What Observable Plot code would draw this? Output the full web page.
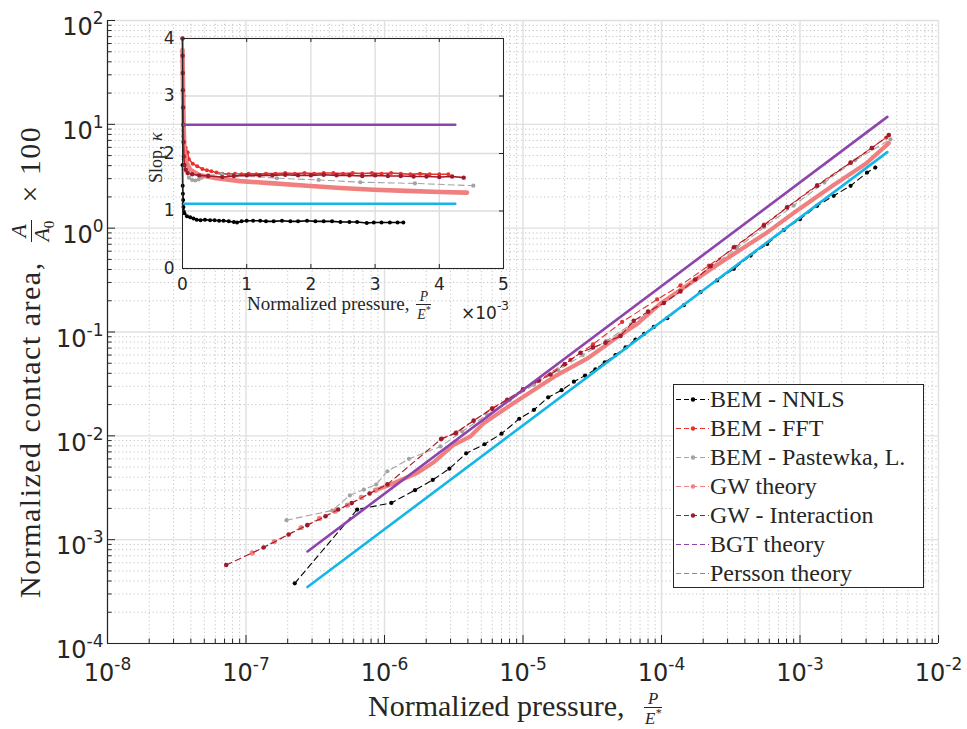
<!DOCTYPE html>
<html>
<head>
<meta charset="utf-8">
<script src="https://cdn.jsdelivr.net/npm/d3@7"></script>
<script src="https://cdn.jsdelivr.net/npm/@observablehq/plot@0.6"></script>
<style>
  html, body { margin: 0; padding: 0; background: white; }
  #fig { position: relative; width: 967px; height: 729px; background: white; overflow: hidden; }
  #fig > svg, #fig > div { position: absolute; }
  .serif { font-family: "Liberation Serif", "Times New Roman", serif; color: #262626; white-space: nowrap; }
  .frac { display: inline-flex; flex-direction: column; vertical-align: middle; text-align: center; font-size: 0.72em; font-style: italic; line-height: 1.0; margin: 0 2px; letter-spacing: 0; }
  .frac .d { border-top: 1px solid #262626; padding: 0 1px; }
  .sans { font-family: "Liberation Sans", Arial, sans-serif; color: #262626; white-space: nowrap; }
  #legend .row { height: 29px; display: flex; align-items: center; font-size: 24px; line-height: 29px; }
  #legend svg { flex: none; }
</style>
</head>
<body>
<div id="fig"></div>
<script>
// ---------------- DATA (main plot, log-log) ----------------
const xMajor = [1e-8, 1e-7, 1e-6, 1e-5, 1e-4, 1e-3, 1e-2];
const xTickLabels = ["10^-8", "10^-7", "10^-6", "10^-5", "10^-4", "10^-3", "10^-2"];
const yMajor = [1e-4, 1e-3, 1e-2, 1e-1, 1e0, 1e1, 1e2];
const yTickLabels = ["10^-4", "10^-3", "10^-2", "10^-1", "10^0", "10^1", "10^2"];

const seriesNames = ["BEM - NNLS", "BEM - FFT", "BEM - Pastewka, L.", "GW theory", "GW - Interaction", "BGT theory", "Persson theory"];
const seriesColors = ["#000000", "#e8302c", "#a3a3a3", "#f08080", "#9e1b2c", "#8e44ad", "#14b6e6"];

const nnlsP = [2.25e-7, 6.35e-7, 1.12e-6, 1.66e-6, 2.23e-6, 2.94e-6, 3.89e-6, 5.27e-6, 7.0e-6, 9.4e-6, 1.2e-5, 1.52e-5, 1.9e-5, 2.33e-5, 2.8e-5, 3.33e-5, 3.9e-5, 4.65e-5, 5.5e-5, 6.49e-5, 7.5e-5, 8.79e-5, 1.1e-4, 1.45e-4, 1.91e-4, 2.52e-4, 3.33e-4, 4.4e-4, 5.79e-4, 7.64e-4, 1.0e-3, 1.33e-3, 1.75e-3, 2.32e-3, 3.05e-3, 3.5e-3];
const nnlsA = [3.8e-4, 1.95e-3, 2.26e-3, 3.0e-3, 3.76e-3, 4.83e-3, 6.78e-3, 8.3e-3, 1.05e-2, 1.46e-2, 1.78e-2, 2.35e-2, 2.75e-2, 3.32e-2, 3.8e-2, 4.36e-2, 5.1e-2, 6.0e-2, 7.1e-2, 8.45e-2, 9.6e-2, 0.112, 0.136, 0.181, 0.242, 0.314, 0.406, 0.545, 0.705, 0.96, 1.22, 1.64, 2.05, 2.56, 3.43, 3.83];

const fftP = [2.6e-6, 3.3e-6, 6.0e-6, 1.2e-5, 2.2e-5, 3.2e-5, 5.2e-5, 9.3e-5, 1.37e-4, 2.2e-4, 3.42e-4, 5.5e-4, 8.1e-4, 1.33e-3, 2.32e-3, 3.3e-3, 4.2e-3];
const fftA = [9.4e-3, 1.08e-2, 1.85e-2, 3.2e-2, 5.4e-2, 7.6e-2, 0.125, 0.206, 0.281, 0.437, 0.654, 1.08, 1.6, 2.6, 4.3, 5.95, 7.45];

const pastP = [1.96e-7, 4.19e-7, 5.62e-7, 7.1e-7, 8.7e-7, 1.05e-6, 1.5e-6, 2.54e-6, 3.64e-6, 5.5e-6, 8.0e-6, 1.2e-5, 1.8e-5, 2.7e-5, 4.0e-5, 6.0e-5, 9.0e-5, 1.4e-4, 2.2e-4, 3.5e-4, 5.5e-4, 9.0e-4, 1.5e-3, 2.5e-3, 4.5e-3];
const pastA = [1.54e-3, 1.91e-3, 2.67e-3, 3.04e-3, 3.4e-3, 4.56e-3, 6.0e-3, 7.9e-3, 1.1e-2, 1.6e-2, 2.2e-2, 3.1e-2, 4.3e-2, 6.0e-2, 8.2e-2, 0.118, 0.17, 0.26, 0.41, 0.64, 1.02, 1.65, 2.75, 4.5, 7.16];

const gwtDotP = [1.11e-7, 1.6e-7, 2.5e-7, 3.4e-7, 4.4e-7, 5.4e-7, 6.8e-7, 8.6e-7];
const gwtDotA = [7.45e-4, 9.6e-4, 1.31e-3, 1.6e-3, 1.88e-3, 2.15e-3, 2.55e-3, 3.0e-3];
const gwtP = [8.6e-7, 1.05e-6, 1.72e-6, 2.28e-6, 3.16e-6, 4.18e-6, 5.2e-6, 8.1e-6, 1.67e-5, 2.9e-5, 4.5e-5, 6.7e-5, 9.8e-5, 2.5e-4, 5.79e-4, 1.0e-3, 1.75e-3, 3.0e-3, 4.38e-3];
const gwtA = [3.0e-3, 3.3e-3, 4.39e-3, 5.6e-3, 8.2e-3, 9.9e-3, 1.32e-2, 1.97e-2, 3.69e-2, 5.53e-2, 8.4e-2, 0.12, 0.187, 0.44, 0.91, 1.55, 2.6, 4.2, 6.6];

const gwiP = [7.2e-8, 1.34e-7, 2.03e-7, 2.77e-7, 3.75e-7, 4.63e-7, 5.8e-7, 7.8e-7, 1.05e-6, 2.56e-6, 3.26e-6, 4.4e-6, 5.99e-6, 7.7e-6, 1.0e-5, 1.3e-5, 1.58e-5, 2.0e-5, 2.6e-5, 3.2e-5, 3.94e-5, 5.06e-5, 6.3e-5, 8.0e-5, 1.04e-4, 1.37e-4, 1.75e-4, 2.26e-4, 3.33e-4, 5.48e-4, 8.06e-4, 1.33e-3, 2.32e-3, 3.3e-3, 4.38e-3];
const gwiA = [5.7e-4, 8.4e-4, 1.12e-3, 1.38e-3, 1.68e-3, 1.95e-3, 2.25e-3, 2.78e-3, 3.41e-3, 9.3e-3, 1.06e-2, 1.4e-2, 1.82e-2, 2.22e-2, 2.8e-2, 3.4e-2, 3.9e-2, 4.9e-2, 6.3e-2, 7.1e-2, 7.9e-2, 9.16e-2, 0.128, 0.157, 0.19, 0.246, 0.32, 0.43, 0.654, 1.06, 1.58, 2.56, 4.27, 5.9, 7.9];

const bgtP = [2.78e-7, 4.27e-3];
const bgtA = [7.7e-4, 11.8];
const perP = [2.78e-7, 4.27e-3];
const perA = [3.5e-4, 5.4];

// ---------------- DATA (inset, slope kappa) ----------------
const inXTicks = [0, 1e-3, 2e-3, 3e-3, 4e-3, 5e-3];
const inXTickLabels = ["0", "1", "2", "3", "4", "5"];
const inYTicks = [0, 1, 2, 3, 4];

const inNnlsP = [0, 0.003e-3, 0.006e-3, 0.01e-3, 0.015e-3, 0.03e-3, 0.07e-3, 0.12e-3, 0.17e-3, 0.22e-3, 0.28e-3, 0.35e-3, 0.43e-3, 0.5e-3, 0.57e-3, 0.64e-3, 0.72e-3, 0.8e-3, 0.85e-3, 0.92e-3, 1.0e-3, 1.1e-3, 1.21e-3, 1.3e-3, 1.42e-3, 1.55e-3, 1.68e-3, 1.8e-3, 1.94e-3, 2.07e-3, 2.2e-3, 2.33e-3, 2.46e-3, 2.6e-3, 2.72e-3, 2.87e-3, 2.98e-3, 3.1e-3, 3.23e-3, 3.35e-3, 3.44e-3];
const inNnlsK = [1.8, 1.44, 1.3, 1.19, 1.07, 0.96, 0.91, 0.89, 0.87, 0.85, 0.84, 0.85, 0.84, 0.84, 0.83, 0.83, 0.82, 0.81, 0.8, 0.82, 0.83, 0.83, 0.83, 0.82, 0.82, 0.83, 0.82, 0.82, 0.83, 0.82, 0.82, 0.82, 0.81, 0.81, 0.81, 0.79, 0.8, 0.8, 0.8, 0.8, 0.8];

const inFftP = [0, 0.004e-3, 0.008e-3, 0.015e-3, 0.03e-3, 0.05e-3, 0.08e-3, 0.1e-3, 0.16e-3, 0.23e-3, 0.31e-3, 0.38e-3, 0.45e-3, 0.53e-3, 0.62e-3, 0.72e-3, 0.82e-3, 0.92e-3, 1.03e-3, 1.15e-3, 1.3e-3, 1.45e-3, 1.6e-3, 1.75e-3, 1.9e-3, 2.05e-3, 2.2e-3, 2.35e-3, 2.5e-3, 2.65e-3, 2.8e-3, 2.95e-3, 3.1e-3, 3.25e-3, 3.4e-3, 3.55e-3, 3.7e-3, 3.85e-3, 4.0e-3, 4.14e-3];
const inFftK = [4.0, 3.4, 2.8, 2.4, 2.2, 2.1, 2.02, 1.9, 1.82, 1.78, 1.73, 1.71, 1.69, 1.67, 1.65, 1.64, 1.65, 1.64, 1.65, 1.64, 1.65, 1.65, 1.66, 1.65, 1.66, 1.65, 1.66, 1.66, 1.65, 1.66, 1.65, 1.66, 1.65, 1.66, 1.65, 1.64, 1.65, 1.64, 1.64, 1.64];

const inPastP = [0, 0.005e-3, 0.01e-3, 0.02e-3, 0.05e-3, 0.1e-3, 0.15e-3, 0.2e-3, 0.25e-3, 0.3e-3, 0.4e-3, 0.61e-3, 0.85e-3, 1.47e-3, 2.12e-3, 2.77e-3, 3.62e-3, 4.53e-3];
const inPastK = [3.8, 3.0, 2.3, 1.9, 1.7, 1.58, 1.54, 1.53, 1.55, 1.58, 1.62, 1.64, 1.62, 1.57, 1.54, 1.5, 1.48, 1.44];

const inGwtP = [0, 0.005e-3, 0.01e-3, 0.02e-3, 0.03e-3, 0.06e-3, 0.12e-3, 0.27e-3, 0.53e-3, 0.9e-3, 1.42e-3, 1.94e-3, 2.46e-3, 2.98e-3, 3.49e-3, 4.01e-3, 4.43e-3];
const inGwtK = [3.8, 3.4, 3.0, 2.4, 2.0, 1.85, 1.72, 1.62, 1.57, 1.52, 1.48, 1.44, 1.4, 1.37, 1.35, 1.33, 1.32];

const inGwiP = [0, 0.002e-3, 0.004e-3, 0.006e-3, 0.009e-3, 0.012e-3, 0.016e-3, 0.02e-3, 0.03e-3, 0.05e-3, 0.08e-3, 0.15e-3, 0.26e-3, 0.4e-3, 0.62e-3, 0.8e-3, 1.0e-3, 1.2e-3, 1.4e-3, 1.6e-3, 1.8e-3, 2.0e-3, 2.2e-3, 2.4e-3, 2.6e-3, 2.8e-3, 3.0e-3, 3.2e-3, 3.4e-3, 3.6e-3, 3.8e-3, 4.0e-3, 4.2e-3, 4.38e-3];
const inGwiK = [4.0, 3.7, 3.4, 3.1, 2.8, 2.5, 2.2, 1.95, 1.8, 1.72, 1.66, 1.64, 1.62, 1.61, 1.59, 1.61, 1.62, 1.62, 1.62, 1.63, 1.62, 1.62, 1.63, 1.62, 1.62, 1.61, 1.62, 1.61, 1.61, 1.6, 1.6, 1.59, 1.6, 1.58];

const inBgtP = [0, 4.25e-3];
const inBgtK = [2.5, 2.5];
const inPerP = [0, 4.25e-3];
const inPerK = [1.125, 1.125];

// ---------------- helpers ----------------
const tbl = (xs, ys) => xs.map((x, i) => ({p: x, v: ys[i]}));
const C = Object.fromEntries(seriesNames.map((n, i) => [n, seriesColors[i]]));

const minorLog = (lo, hi) => {
  const out = [];
  for (let e = lo; e < hi; e++) for (let k = 2; k <= 9; k++) out.push(k * Math.pow(10, e));
  return out;
};
const xMinor = minorLog(-8, -2);
const yMinor = minorLog(-4, 2);

const fig = document.getElementById("fig");

// ---------------- MAIN PLOT ----------------
const W = 967, H = 729, mL = 107, mR = 29, mT = 20, mB = 86;
const pw = W - mL - mR, ph = H - mT - mB;
const dashed = (data, color, r = 2.1) => [
  Plot.line(data, {x: "p", y: "v", stroke: color, strokeWidth: 1.1, strokeDasharray: "6,4"}),
  Plot.dot(data, {x: "p", y: "v", r, fill: color})
];

const main = Plot.plot({
  width: W, height: H, marginLeft: mL, marginRight: mR, marginTop: mT, marginBottom: mB,
  style: {fontFamily: "'DejaVu Sans', sans-serif", background: "transparent", color: "#262626", overflow: "visible"},
  x: {type: "log", domain: [1e-8, 1e-2], axis: null},
  y: {type: "log", domain: [1e-4, 1e2], axis: null},
  marks: [
    Plot.ruleX(xMinor, {stroke: "#c4c4c4", strokeWidth: 1, strokeDasharray: "1.2,2.6"}),
    Plot.ruleY(yMinor, {stroke: "#c4c4c4", strokeWidth: 1, strokeDasharray: "1.2,2.6"}),
    Plot.ruleX(xMajor, {stroke: "#e0e0e0", strokeWidth: 1.4}),
    Plot.ruleY(yMajor, {stroke: "#e0e0e0", strokeWidth: 1.4}),
    // axis lines
    Plot.ruleX([1e-8], {stroke: "#262626", strokeWidth: 1.2}),
    Plot.ruleY([1e-4], {stroke: "#262626", strokeWidth: 1.2}),
    // inward ticks
    Plot.ruleX(xMajor, {stroke: "#262626", insetTop: ph - 8}),
    Plot.ruleX(xMinor, {stroke: "#262626", insetTop: ph - 4.5}),
    Plot.ruleY(yMajor, {stroke: "#262626", insetRight: pw - 8}),
    Plot.ruleY(yMinor, {stroke: "#262626", insetRight: pw - 4.5}),
    // tick labels
    Plot.text(xMajor, {x: d => d, text: (d, i) => xTickLabels[i], frameAnchor: "bottom", dy: 37, fontSize: 24, textAnchor: "middle", fill: "#262626", ariaDescription: "xticklabels"}),
    Plot.text(yMajor, {y: d => d, text: (d, i) => yTickLabels[i], frameAnchor: "left", dx: -4, dy: 7, fontSize: 24, textAnchor: "end", fill: "#262626", ariaDescription: "yticklabels"}),
    // series
    ...dashed(tbl(nnlsP, nnlsA), C["BEM - NNLS"]),
    ...dashed(tbl(fftP, fftA), C["BEM - FFT"]),
    ...dashed(tbl(pastP, pastA), C["BEM - Pastewka, L."]),
    Plot.line(tbl(gwtDotP, gwtDotA), {x: "p", y: "v", stroke: C["GW theory"], strokeWidth: 1.1, strokeDasharray: "6,4"}),
    Plot.dot(tbl(gwtDotP, gwtDotA), {x: "p", y: "v", r: 2.6, fill: C["GW theory"]}),
    Plot.line(tbl(gwtP, gwtA), {x: "p", y: "v", stroke: C["GW theory"], strokeWidth: 4.2, strokeLinejoin: "round"}),
    ...dashed(tbl(gwiP, gwiA), C["GW - Interaction"], 2.3),
    Plot.line(tbl(bgtP, bgtA), {x: "p", y: "v", stroke: C["BGT theory"], strokeWidth: 2.6}),
    Plot.line(tbl(perP, perA), {x: "p", y: "v", stroke: C["Persson theory"], strokeWidth: 2.6})
  ]
});
main.style.left = "0px"; main.style.top = "0px";
fig.appendChild(main);

function superscriptify(svg, label) {
  d3.select(svg).selectAll(`g[aria-description="${label}"] text`).each(function () {
    const parts = this.textContent.split("^");
    if (parts.length < 2) return;
    const sel = d3.select(this);
    sel.text(parts[0]);
    sel.append("tspan").attr("dy", -11).attr("font-size", 17).text(parts[1]);
  });
}
superscriptify(main, "xticklabels");
superscriptify(main, "yticklabels");

// ---------------- INSET ----------------
const iL = 140, iT = 25, iW = 380, iH = 295;
const imL = 182 - iL, imT = 38 - iT, imR = iL + iW - 503, imB = iT + iH - 268;
const ipw = iW - imL - imR, iph = iH - imT - imB;
const inDense = (data, color, r = 2.0) => [
  Plot.line(data, {x: "p", y: "v", stroke: color, strokeWidth: 1.6}),
  Plot.dot(data, {x: "p", y: "v", r, fill: color})
];
const inset = Plot.plot({
  width: iW, height: iH, marginLeft: imL, marginRight: imR, marginTop: imT, marginBottom: imB,
  style: {fontFamily: "'DejaVu Sans', sans-serif", fontSize: "17px", background: "transparent", color: "#262626", overflow: "visible"},
  x: {domain: [0, 5e-3], ticks: inXTicks, tickFormat: (d, i) => inXTickLabels[i], tickSize: 0, tickPadding: 9, label: null},
  y: {domain: [0, 4], ticks: inYTicks, tickFormat: d => String(d), tickSize: 0, tickPadding: 8, label: null},
  marks: [
    Plot.frame({fill: "white", stroke: null}),
    Plot.ruleX(inXTicks, {stroke: "#dcdcdc", strokeWidth: 1.3}),
    Plot.ruleY(inYTicks, {stroke: "#dcdcdc", strokeWidth: 1.3}),
    Plot.ruleX(inXTicks, {stroke: "#262626", insetTop: iph - 4}),
    Plot.ruleX(inXTicks, {stroke: "#262626", insetBottom: iph - 4}),
    Plot.ruleY(inYTicks, {stroke: "#262626", insetRight: ipw - 4}),
    Plot.ruleY(inYTicks, {stroke: "#262626", insetLeft: ipw - 4}),
    ...inDense(tbl(inNnlsP, inNnlsK), C["BEM - NNLS"]),
    ...inDense(tbl(inFftP, inFftK), C["BEM - FFT"]),
    Plot.line(tbl(inPastP, inPastK), {x: "p", y: "v", stroke: C["BEM - Pastewka, L."], strokeWidth: 1.1, strokeDasharray: "6,4"}),
    Plot.dot(tbl(inPastP, inPastK), {x: "p", y: "v", r: 2.1, fill: C["BEM - Pastewka, L."]}),
    Plot.line(tbl(inGwtP, inGwtK), {x: "p", y: "v", stroke: C["GW theory"], strokeWidth: 4.6, strokeLinejoin: "round", strokeLinecap: "round"}),
    ...inDense(tbl(inGwiP, inGwiK), C["GW - Interaction"], 2.2),
    Plot.line(tbl(inBgtP, inBgtK), {x: "p", y: "v", stroke: C["BGT theory"], strokeWidth: 2.4}),
    Plot.line(tbl(inPerP, inPerK), {x: "p", y: "v", stroke: C["Persson theory"], strokeWidth: 2.4}),
    Plot.frame({stroke: "#262626", strokeWidth: 1})
  ]
});
inset.style.left = iL + "px"; inset.style.top = iT + "px";
fig.appendChild(inset);

// ---------------- TEXT LABELS (HTML) ----------------
function addDiv(html, css, cls) {
  const d = document.createElement("div");
  d.className = cls;
  d.innerHTML = html;
  Object.assign(d.style, css);
  fig.appendChild(d);
  return d;
}
const frac = (n, d, ml = 2, mr = 2, fs = "0.72em") => `<span class="frac" style="margin:0 ${mr}px 0 ${ml}px;font-size:${fs}"><span class="n">${n}</span><span class="d">${d}</span></span>`;

addDiv(`Normalized pressure, ${frac("P", "E<sup style='font-size:0.7em'>*</sup>", 12, 0, "0.56em")}`,
  {left: "368px", top: "688px", fontSize: "30px", lineHeight: "36px"}, "serif");

addDiv(`Normalized contact area, ${frac("A", "A<sub style='font-size:0.7em;font-style:normal'>0</sub>", 10, 8)} × 100`,
  {left: "9px", top: "598px", fontSize: "30px", lineHeight: "38px", letterSpacing: "1.5px", transformOrigin: "0 0", transform: "rotate(-90deg)"}, "serif");

addDiv(`Normalized pressure, ${frac("P", "E<sup style='font-size:0.7em'>*</sup>")}`,
  {left: "247px", top: "290px", fontSize: "19px", lineHeight: "24px"}, "serif");

addDiv(`×10<sup style="font-size:12px;position:relative;top:-2px">-3</sup>`,
  {left: "461px", top: "298px", fontSize: "17px", lineHeight: "20px", fontFamily: "'DejaVu Sans', sans-serif"}, "sans");

addDiv(`Slop, <i>κ</i>`,
  {left: "145px", top: "183px", fontSize: "18px", lineHeight: "22px", transformOrigin: "0 0", transform: "rotate(-90deg)"}, "serif");

// ---------------- LEGEND ----------------
const leg = addDiv("", {left: "673px", top: "384px", width: "251px", height: "204px", border: "1px solid #262626", background: "white", boxSizing: "border-box"}, "serif");
leg.id = "legend";
seriesNames.forEach((name, i) => {
  const row = document.createElement("div");
  row.className = "row";
  const col = seriesColors[i];
  row.innerHTML = `<svg width="36" height="29"><line x1="2" y1="14.5" x2="35" y2="14.5" stroke="${col}" stroke-width="1.1" stroke-dasharray="5,3"/>` +
    (i < 5 ? `<circle cx="19" cy="14.5" r="2.2" fill="${col}"/>` : "") + `</svg><span>${name}</span>`;
  leg.appendChild(row);
});
</script>
</body>
</html>
